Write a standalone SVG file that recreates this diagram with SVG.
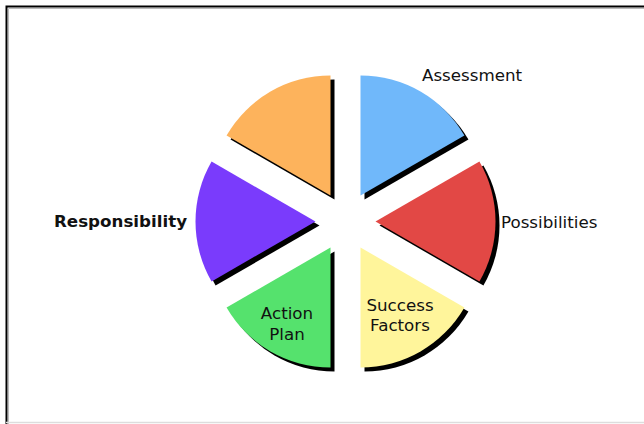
<svg xmlns="http://www.w3.org/2000/svg" xmlns:xlink="http://www.w3.org/1999/xlink" width="644" height="424" viewBox="0 0 644 424">
<style>
  .lbl{font-family:"DejaVu Sans","Verdana",sans-serif;font-size:16.7px;fill:#111;}
  .bold{font-weight:bold;}
  .shadow{fill:#000;}
</style>
<defs>
  <path id="pBlue" d="M360.5,195.5 L360.5,75.5 A120,120 0 0 1 464.42,135.5 Z"/>
  <path id="pRed" d="M375.5,221.5 L479.42,161.5 A120,120 0 0 1 479.42,281.5 Z"/>
  <path id="pYellow" d="M360.5,247.5 L464.42,307.5 A120,120 0 0 1 360.5,367.5 Z"/>
  <path id="pGreen" d="M330.5,247.5 L330.5,367.5 A120,120 0 0 1 226.58,307.5 Z"/>
  <path id="pPurple" d="M315.5,221.5 L211.58,281.5 A120,120 0 0 1 211.58,161.5 Z"/>
  <path id="pOrange" d="M330.5,195.5 L226.58,135.5 A120,120 0 0 1 330.5,75.5 Z"/>
</defs>
<rect width="644" height="424" fill="#fff"/>
<g id="frame" fill="none">
  <path d="M6.5,424 V6.5 H644" stroke="#000" stroke-width="2"/>
  <path d="M8.5,424 V8.5 H644" stroke="#bbb" stroke-width="1"/>
  <path d="M6,422.5 H644" stroke="#ddd" stroke-width="1.5"/>
</g>
<g id="assessment">
  <use xlink:href="#pBlue" class="shadow" transform="translate(4,4)"/>
  <use xlink:href="#pBlue" fill="#70b8fa"/>
  <text class="lbl" x="422" y="81">Assessment</text>
</g>
<g id="possibilities">
  <use xlink:href="#pRed" class="shadow" transform="translate(4,4)"/>
  <use xlink:href="#pRed" fill="#e24845"/>
  <text class="lbl" x="501" y="228">Possibilities</text>
</g>
<g id="success-factors">
  <use xlink:href="#pYellow" class="shadow" transform="translate(4,4)"/>
  <use xlink:href="#pYellow" fill="#fff59b"/>
  <text class="lbl" text-anchor="middle" x="400" y="311">Success</text>
  <text class="lbl" text-anchor="middle" x="400" y="331">Factors</text>
</g>
<g id="action-plan">
  <use xlink:href="#pGreen" class="shadow" transform="translate(4,4)"/>
  <use xlink:href="#pGreen" fill="#55e26d"/>
  <text class="lbl" text-anchor="middle" x="287" y="319">Action</text>
  <text class="lbl" text-anchor="middle" x="287" y="340">Plan</text>
</g>
<g id="responsibility">
  <use xlink:href="#pPurple" class="shadow" transform="translate(4,4)"/>
  <use xlink:href="#pPurple" fill="#7a3bfc"/>
  <text class="lbl bold" x="54" y="227">Responsibility</text>
</g>
<g id="unlabeled">
  <use xlink:href="#pOrange" class="shadow" transform="translate(4,4)"/>
  <use xlink:href="#pOrange" fill="#fdb35c"/>
</g>
<g id="connectors"/>
</svg>
